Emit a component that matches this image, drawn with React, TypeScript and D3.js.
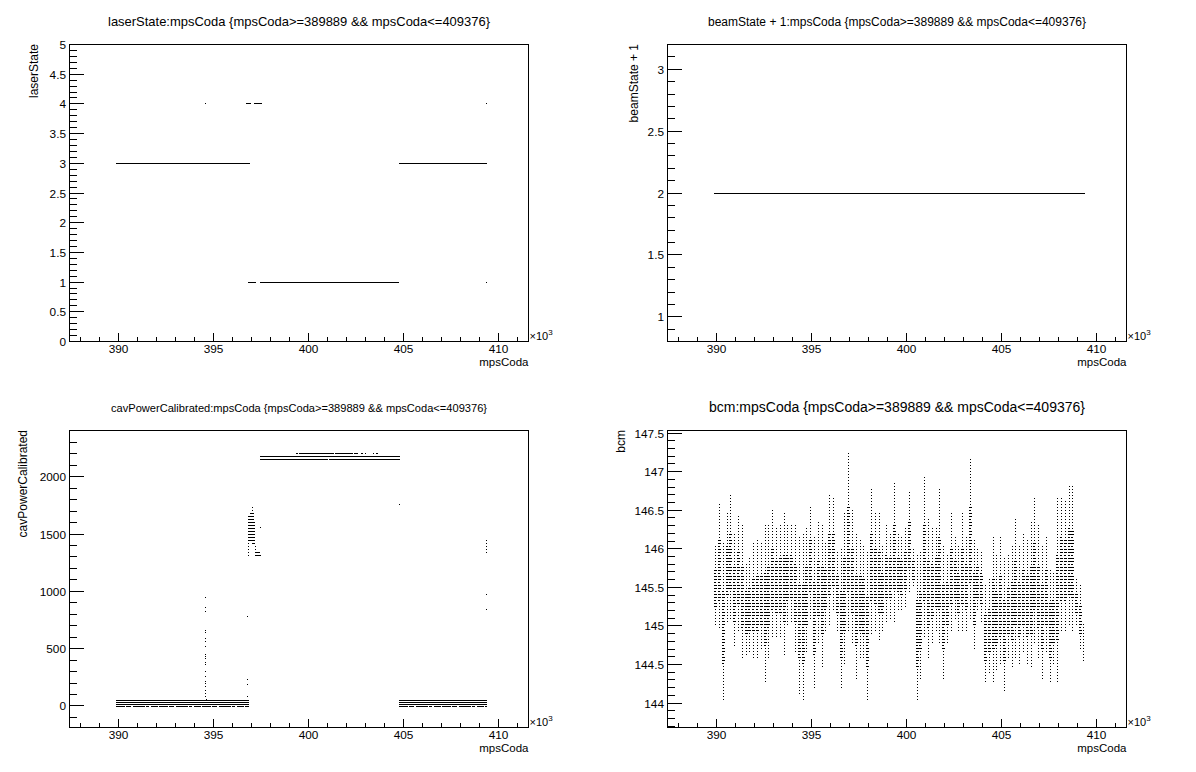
import React from "react";
import * as d3 from "d3";

const FONT = "'Liberation Sans', Arial, Helvetica, sans-serif";

// ---------------- data ----------------
const cutHi = 409.376;
const xMajor = [390, 395, 400, 405, 410];
const xMinor = d3.range(388, 412, 1);

// laserState: horizontal runs [start, end, state] and isolated points [mpsCoda, state]
const laserSegs: [number, number, number][] = [
  [389.889, 396.86, 3],
  [404.75, 409.376, 3],
  [396.73, 396.93, 4],
  [397.15, 397.5, 4],
  [396.84, 397.2, 1],
  [397.46, 404.72, 1],
];
const laserDots: [number, number][] = [
  [394.56, 4],
  [409.35, 4],
  [409.35, 1],
];

// beamState + 1
const beamSegs: [number, number, number][] = [[389.889, 409.376, 2]];

// cavPowerCalibrated: solid runs [start, end, value]
const cavSegs: [number, number, number][] = [
  [389.889, 396.85, 48],
  [389.889, 396.85, 30],
  [389.889, 396.85, 13],
  [404.75, 409.376, 48],
  [404.75, 409.376, 30],
  [404.75, 409.376, 13],
  [397.46, 404.77, 2176],
  [397.46, 400.97, 2150],
  [401.09, 404.77, 2150],
];
// broken runs (many short gaps)
const cavBroken: [number, number, number][] = [
  [389.889, 396.85, -4],
  [404.75, 409.376, -4],
];
const cavTopRow: [number, number, number][] = [
  [399.34, 399.41, 2202],
  [399.51, 401.3, 2202],
  [401.4, 402.3, 2202],
  [402.41, 402.56, 2202],
  [402.77, 402.8, 2202],
  [402.98, 403.01, 2202],
  [403.4, 403.43, 2202],
  [403.56, 403.59, 2202],
];
const cavDots: [number, number][] = [
  [394.56, 950], [394.56, 860], [394.56, 820], [394.56, 660], [394.56, 640],
  [394.56, 590], [394.56, 560], [394.56, 516], [394.56, 445], [394.56, 429],
  [394.56, 418], [394.56, 375], [394.56, 365], [394.56, 300], [394.56, 261],
  [394.56, 211], [394.56, 200], [394.56, 167], [394.56, 139], [394.56, 110],
  [394.56, 80], [394.6, 60],
  [396.76, 784], [396.76, 232], [396.76, 188], [396.76, 80],
  [397.45, 1557], [404.75, 1760],
  [409.35, 970], [409.35, 840],
];
// dense little columns [mpsCoda, low, high]
const cavCols: [number, number, number][] = [
  [396.81, 1300, 1650],
  [396.86, 1420, 1650],
  [396.92, 1420, 1680],
  [396.97, 1420, 1700],
  [397.02, 1400, 1743],
  [397.07, 1400, 1700],
  [397.13, 1390, 1600],
  [397.18, 1300, 1400],
  [397.23, 1300, 1340],
  [397.29, 1300, 1360],
  [397.34, 1300, 1360],
  [397.4, 1300, 1340],
  [397.45, 1300, 1330],
  [409.35, 1320, 1450],
];

// bcm: per 0.2k-wide slice of mpsCoda, highest and lowest reading
const bcmStart = 389.889;
const bcmBin = 0.2;
const bcmHi = [
  146.05, 146.61, 146.09, 146.5, 146.7, 146.22, 146.44, 146.31, 145.83, 145.88,
  146.09, 146.12, 146.09, 146.33, 146.31, 146.53, 146.27, 146.33, 146.48, 146.31,
  146.31, 146.31, 146.16, 146.2, 146.27, 146.57, 146.18, 146.35, 146.33, 146.09,
  146.7, 146.66, 145.96, 146.01, 146.48, 147.26, 146.53, 146.22, 146.14, 146.05,
  145.96, 146.78, 146.48, 146.48, 146.05, 146.31, 146.22, 146.87, 146.2, 146.16,
  146.27, 146.74, 146.01, 145.92, 145.96, 146.94, 146.4, 146.27, 146.29, 146.78,
  146.05, 145.92, 146.48, 146.18, 146.05, 146.48, 146.18, 147.17, 146.14, 146.01,
  145.96, 145.53, 145.62, 146.18, 145.92, 146.16, 145.88, 145.92, 146.05, 146.42,
  146.05, 146.22, 146.14, 146.35, 146.66, 146.31, 146.05, 146.18, 145.75, 145.71,
  146.66, 146.68, 146.63, 146.83, 146.83, 145.62, 145.53, 145.36,
];
const bcmLo = [
  144.99, 144.97, 144.04, 145.06, 145.1, 144.73, 144.93, 144.58, 144.63, 144.67,
  144.58, 144.58, 144.71, 144.28, 144.58, 144.84, 144.84, 144.84, 144.63, 145.01,
  145.06, 144.67, 144.11, 144.04, 144.67, 145.1, 144.19, 144.76, 144.47, 144.93,
  145.01, 145.19, 144.93, 144.17, 144.5, 144.93, 144.76, 144.32, 144.58, 144.58,
  144.02, 144.89, 144.93, 144.8, 144.93, 145.06, 145.1, 145.06, 145.19, 145.19,
  145.23, 145.45, 145.49, 144.04, 144.32, 144.84, 144.58, 144.76, 144.93, 144.76,
  144.32, 144.76, 144.93, 145.1, 144.93, 144.93, 144.93, 145.1, 144.69, 145.19,
  145.06, 144.28, 144.37, 144.28, 144.41, 144.5, 144.15, 144.58, 144.45, 144.58,
  144.5, 144.67, 144.5, 144.47, 144.76, 144.58, 144.32, 144.67, 144.26, 144.5,
  144.28, 144.93, 144.93, 145.01, 144.93, 145.01, 144.71, 144.32,
];

// ---------------- layout ----------------
const DX = 598;
const DY = 386;
const FX0 = 69.5, FX1 = 528.5, FY0 = 44.5, FY1 = 341.5;
const X_DOMAIN: [number, number] = [387.41, 411.56];

type Pad = {
  ox: number;
  oy: number;
  yDomain: [number, number];
  yMajor: number[];
  yMinor: number[];
  yTitle: string;
  yTitleX: number;
  title: string;
  titleSize: number;
  titleLen?: number;
};

const rng = (a: number, b: number, s: number) =>
  d3.range(Math.round(a / s), Math.round(b / s) + 1).map((k) => +(k * s).toFixed(4));

const pads: Pad[] = [
  {
    ox: 0, oy: 0, yDomain: [0, 5], yMajor: rng(0, 5, 0.5), yMinor: rng(0, 5, 0.1),
    yTitle: "laserState", yTitleX: 38.3,
    title: "laserState:mpsCoda {mpsCoda>=389889 && mpsCoda<=409376}", titleSize: 12.8, titleLen: 382,
  },
  {
    ox: DX, oy: 0, yDomain: [0.8, 3.2], yMajor: rng(1, 3, 0.5), yMinor: rng(0.9, 3.2, 0.1),
    yTitle: "beamState + 1", yTitleX: 637.7 - DX,
    title: "beamState + 1:mpsCoda {mpsCoda>=389889 && mpsCoda<=409376}", titleSize: 12, titleLen: 378,
  },
  {
    ox: 0, oy: DY, yDomain: [-188, 2403], yMajor: rng(0, 2000, 500), yMinor: rng(-100, 2400, 100),
    yTitle: "cavPowerCalibrated", yTitleX: 27.3,
    title: "cavPowerCalibrated:mpsCoda {mpsCoda>=389889 && mpsCoda<=409376}", titleSize: 11.15, titleLen: 376,
  },
  {
    ox: DX, oy: DY, yDomain: [143.684, 147.534], yMajor: rng(144, 147.5, 0.5), yMinor: rng(143.7, 147.5, 0.1),
    yTitle: "bcm", yTitleX: 625 - DX,
    title: "bcm:mpsCoda {mpsCoda>=389889 && mpsCoda<=409376}", titleSize: 14,
  },
];

const fmt = (v: number) => String(+v.toFixed(2));

function scalesFor(p: Pad) {
  const xs = d3.scaleLinear().domain(X_DOMAIN).range([FX0 + p.ox, FX1 + p.ox]);
  const ys = d3.scaleLinear().domain(p.yDomain).range([FY1 + p.oy, FY0 + p.oy]);
  return { xs, ys };
}

function segPath(xs: any, ys: any, segs: [number, number, number][]) {
  let d = "";
  for (const [a, b, v] of segs) {
    const x0 = Math.floor(xs(a));
    const x1 = Math.floor(xs(b)) + 1;
    const y = Math.floor(ys(v));
    d += `M${x0},${y}h${x1 - x0}v1h${x0 - x1}z`;
  }
  return d;
}
function dotPath(xs: any, ys: any, pts: [number, number][]) {
  let d = "";
  for (const [x, v] of pts) {
    d += `M${Math.floor(xs(x))},${Math.floor(ys(v))}h1v1h-1z`;
  }
  return d;
}
function brokenPath(xs: any, ys: any, segs: [number, number, number][]) {
  // draw a run as consecutive pixels with a repeating dash/gap rhythm
  const pattern = [9, 1, 5, 2, 12, 1, 3, 2, 7, 1];
  let d = "";
  for (const [a, b, v] of segs) {
    const x0 = Math.floor(xs(a));
    const x1 = Math.floor(xs(b)) + 1;
    const y = Math.floor(ys(v));
    let x = x0;
    let k = 0;
    while (x < x1) {
      const len = Math.min(pattern[k % pattern.length], x1 - x);
      if (k % 2 === 0) d += `M${x},${y}h${len}v1h${-len}z`;
      x += len;
      k++;
    }
  }
  return d;
}
function colPath(xs: any, ys: any, cols: [number, number, number][], step: number) {
  let d = "";
  for (const [x, lo, hi] of cols) {
    const c = Math.floor(xs(x));
    for (let j = Math.ceil(lo / step); j * step <= hi; j++) {
      d += `M${c},${Math.floor(ys(j * step))}h1v1h-1z`;
    }
  }
  return d;
}
function bcmPath(xs: any, ys: any) {
  const base = 143.7;
  const step = 3 / 77.14;
  let d = "";
  bcmHi.forEach((hi, i) => {
    const lo = bcmLo[i];
    const xa = bcmStart + i * bcmBin;
    const xb = Math.min(xa + bcmBin, cutHi);
    const c0 = Math.floor(xs(xa));
    const c1 = Math.max(Math.floor(xs(xb)), c0 + 1);
    const r = hi - lo;
    const inLo = lo + 0.22 * r;
    const inHi = hi - 0.3 * r;
    for (let c = c0; c < c1; c++) {
      const k = c - c0;
      if (k >= 3) continue;
      const a = k === 1 ? lo : inLo;
      const b = k === 1 ? hi : inHi;
      for (let j = Math.ceil((a - base) / step); base + j * step <= b; j++) {
        if (k === 2 && j % 3 === 0) continue;
        const y = Math.floor(ys(base + j * step));
        d += `M${c},${y}h1v1h-1z`;
      }
    }
  });
  return d;
}

function Frame({ p, children }: { p: Pad; children?: React.ReactNode }) {
  const { xs, ys } = scalesFor(p);
  const fx0 = FX0 + p.ox, fx1 = FX1 + p.ox, fy0 = FY0 + p.oy, fy1 = FY1 + p.oy;
  const cx = 299 + p.ox;
  return (
    <g>
      {/* title */}
      <text
        x={cx}
        y={26 + p.oy}
        textAnchor="middle"
        fontSize={p.titleSize}
        fontFamily={FONT}
        textLength={p.titleLen}
        lengthAdjust={p.titleLen ? "spacingAndGlyphs" : undefined}
      >
        {p.title}
      </text>
      {/* marks */}
      <g shapeRendering="crispEdges">{children}</g>
      {/* frame */}
      <rect x={fx0} y={fy0} width={fx1 - fx0} height={fy1 - fy0} fill="none" stroke="#000" strokeWidth={1} shapeRendering="crispEdges" />
      {/* ticks */}
      <g stroke="#000" strokeWidth={1} shapeRendering="crispEdges">
        {xMinor.map((v) => {
          const x = Math.floor(xs(v)) + 0.5;
          const len = xMajor.includes(v) ? 9 : 4.5;
          return <line key={"xt" + v} x1={x} x2={x} y1={fy1} y2={fy1 - len} />;
        })}
        {p.yMinor.map((v) => {
          const y = Math.floor(ys(v)) + 0.5;
          const len = p.yMajor.some((m) => Math.abs(m - v) < 1e-6) ? 14 : 7;
          return <line key={"yt" + v} x1={fx0} x2={fx0 + len} y1={y} y2={y} />;
        })}
      </g>
      <g fontFamily={FONT} fontSize={11.8} fill="#000">
        {xMajor.map((v) => (
          <text key={"xl" + v} x={Math.floor(xs(v)) + 0.5} y={fy1 + 11} textAnchor="middle">
            {v}
          </text>
        ))}
        {p.yMajor.map((v) => (
          <text key={"yl" + v} x={fx0 - 3.5} y={Math.floor(ys(v)) + 4.8} textAnchor="end">
            {fmt(v)}
          </text>
        ))}
        <text x={fx1} y={fy1 + 24} textAnchor="end" fontSize={11.5}>
          mpsCoda
        </text>
        <text x={fx1 + 1} y={fy1 - 1.5} fontSize={11}>
          ×10
          <tspan dy={-5} fontSize={8}>
            3
          </tspan>
        </text>
        <text transform={`translate(${p.yTitleX + p.ox},${fy0 - 0.5}) rotate(-90)`} textAnchor="end" fontSize={12}>
          {p.yTitle}
        </text>
      </g>
    </g>
  );
}

export default function App() {
  const [p1, p2, p3, p4] = pads;
  const s1 = scalesFor(p1);
  const s2 = scalesFor(p2);
  const s3 = scalesFor(p3);
  const s4 = scalesFor(p4);
  const cavStep = 3 / ((FY1 - FY0) / (p3.yDomain[1] - p3.yDomain[0]));
  return (
    <svg
      width={1196}
      height={772}
      viewBox="0 0 1196 772"
      style={{ position: "absolute", left: 0, top: 0, background: "#fff" }}
    >
      <rect x={0} y={0} width={1196} height={772} fill="#fff" />
      <Frame p={p1}>
        <path d={segPath(s1.xs, s1.ys, laserSegs) + dotPath(s1.xs, s1.ys, laserDots)} fill="#000" />
      </Frame>
      <Frame p={p2}>
        <path d={segPath(s2.xs, s2.ys, beamSegs)} fill="#000" />
      </Frame>
      <Frame p={p3}>
        <path
          d={
            segPath(s3.xs, s3.ys, cavSegs) +
            segPath(s3.xs, s3.ys, cavTopRow) +
            brokenPath(s3.xs, s3.ys, cavBroken) +
            dotPath(s3.xs, s3.ys, cavDots) +
            colPath(s3.xs, s3.ys, cavCols, cavStep)
          }
          fill="#000"
        />
      </Frame>
      <Frame p={p4}>
        <path d={bcmPath(s4.xs, s4.ys)} fill="#000" />
      </Frame>
    </svg>
  );
}
